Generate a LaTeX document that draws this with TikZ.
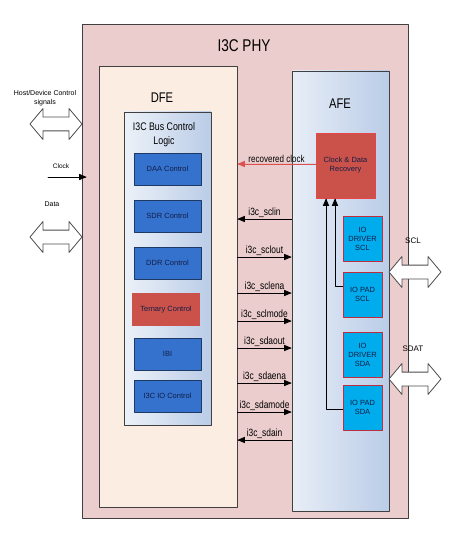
\documentclass[tikz,border=0pt]{standalone}
\usepackage{fontspec}
\setmainfont{Liberation Sans}
\newfontfamily\narrowfont[FakeStretch=0.8]{Liberation Sans}
\usepackage{tikz}
\usetikzlibrary{arrows,shapes.arrows}

\definecolor{phypink}{RGB}{236,205,205}
\definecolor{dfecream}{RGB}{252,237,227}
\definecolor{afelight}{RGB}{232,238,247}
\definecolor{afedark}{RGB}{186,204,231}
\definecolor{ctrlblue}{RGB}{52,114,206}
\definecolor{ctrledge}{RGB}{30,58,100}
\definecolor{brick}{RGB}{203,82,74}
\definecolor{brickedge}{RGB}{230,70,70}
\definecolor{iocyan}{RGB}{0,172,236}
\definecolor{ioedge}{RGB}{190,45,60}
\definecolor{textnavy}{RGB}{20,30,70}
\definecolor{clkred}{RGB}{220,80,80}

\begin{document}
\begin{tikzpicture}[line cap=round,line join=round,>=triangle 45,x=1pt,y=-1pt,
  frame/.style={draw=black!75,line width=0.8pt,inner sep=0pt},
  ctrlbox/.style={draw=ctrledge,line width=0.8pt,fill=ctrlblue,minimum width=67,minimum height=32,
    font=\fontsize{7.5}{8.5}\selectfont,text=textnavy,inner sep=0pt},
  iobox/.style={draw=ioedge,line width=0.8pt,fill=iocyan,minimum width=39,minimum height=45,
    align=center,font=\fontsize{7.5}{9}\selectfont,text=textnavy,inner sep=0pt},
  dblarrow/.style={double arrow,draw=black!70,fill=white,line width=0.8pt,
    minimum height=52,double arrow head extend=8.5,double arrow tip angle=100,
    inner xsep=0pt,inner ysep=6.5pt},
  siglabel/.style={above,inner sep=1.5pt,font=\narrowfont\fontsize{10.5}{12}\selectfont},
  small/.style={font=\fontsize{7}{8.5}\selectfont,align=center}]
\useasboundingbox (0,0) rectangle (452,545);

\node[frame,fill=phypink,minimum width=326,minimum height=494] (phy) at (245,271) {};
\node[font=\narrowfont\fontsize{17}{20}\selectfont] (phytitle) at (244,46) {I3C PHY};

\node[frame,fill=dfecream,minimum width=138,minimum height=441] (dfe) at (168,286.5) {};
\node[font=\narrowfont\fontsize{14}{16}\selectfont] (dfetitle) at (162,98) {DFE};

\node[frame,left color=afelight,right color=afedark,minimum width=97,minimum height=440] (afe) at (340.5,291) {};
\node[font=\narrowfont\fontsize{14}{16}\selectfont] (afetitle) at (340,104) {AFE};

\node[frame,left color=afelight!80!white,right color=afedark,minimum width=87,minimum height=313] (bus) at (167.5,268.5) {};
\node[align=center,font=\narrowfont\fontsize{11}{14}\selectfont] (bustitle) at (164,134.5) {I3C Bus Control\\Logic};

\node[ctrlbox] (daa) at (167.5,169) {DAA Control};
\node[ctrlbox] (sdr) at (167.5,216) {SDR Control};
\node[ctrlbox] (ddr) at (167.5,263) {DDR Control};
\node[ctrlbox,draw=none,fill=brick,minimum width=68,minimum height=33] (ternary) at (166,309.5) {Ternary Control};
\node[ctrlbox] (ibi) at (167.5,354) {IBI};
\node[ctrlbox] (ioctl) at (167.5,396) {I3C IO Control};

\node[iobox,draw=brickedge,fill=brick,minimum width=59,minimum height=65] (cdr) at (345.5,165.5) {Clock \& Data\\Recovery};
\node[iobox] (drvscl) at (362.5,238.5) {IO\\DRIVER\\SCL};
\node[iobox] (padscl) at (362.5,294.5) {IO PAD\\SCL};
\node[iobox] (drvsda) at (362.5,355) {IO\\DRIVER\\SDA};
\node[iobox] (padsda) at (362.5,407.5) {IO PAD\\SDA};

\draw[->,draw=clkred,fill=clkred,line width=0.7pt] (cdr.west |- 0,164) -- node[above,inner sep=1.5pt,text=black,
  font=\narrowfont\fontsize{10}{12}\selectfont] (reclabel) {recovered clock} (dfe.east |- 0,164);

\foreach \y/\sig in {219/sclin,440/sdain}
  \draw[->,line width=0.7pt] (afe.west |- 0,\y) -- node[siglabel] {i3c\_\sig} (dfe.east |- 0,\y);
\foreach \y/\sig in {257/sclout,293/sclena,321/sclmode,348/sdaout,383/sdaena,412/sdamode}
  \draw[->,line width=0.7pt] (dfe.east |- 0,\y) -- node[siglabel] {i3c\_\sig} (afe.west |- 0,\y);

\draw[->,line width=0.7pt] ([yshift=8.5]padscl.west) -| ([xshift=-10.5]cdr.south);
\draw[->,line width=0.7pt] ([yshift=-1.5]padsda.west) -| ([xshift=-19.5]cdr.south);

\node[dblarrow] (hostarrow) at (56,124) {};
\node[small] (hostlabel) at (45,98) {Host/Device Control\\signals};
\coordinate (clkin) at (48,177);
\node[small,font=\fontsize{6.5}{8}\selectfont] (clklabel) at (61,166) {Clock};
\draw[->,line width=0.7pt] (clkin) -- ([xshift=5]phy.west |- clkin);
\node[dblarrow] (dataarrow) at (56,237) {};
\node[small] (datalabel) at (52,204) {Data};

\node[dblarrow] (sclarrow) at (415,272) {};
\node[small,font=\fontsize{8}{9}\selectfont] (scllabel) at (413,241) {SCL};
\node[dblarrow] (sdaarrow) at (415,379) {};
\node[small,font=\fontsize{8}{9}\selectfont] (sdalabel) at (413,349) {SDAT};
\end{tikzpicture}
\end{document}
